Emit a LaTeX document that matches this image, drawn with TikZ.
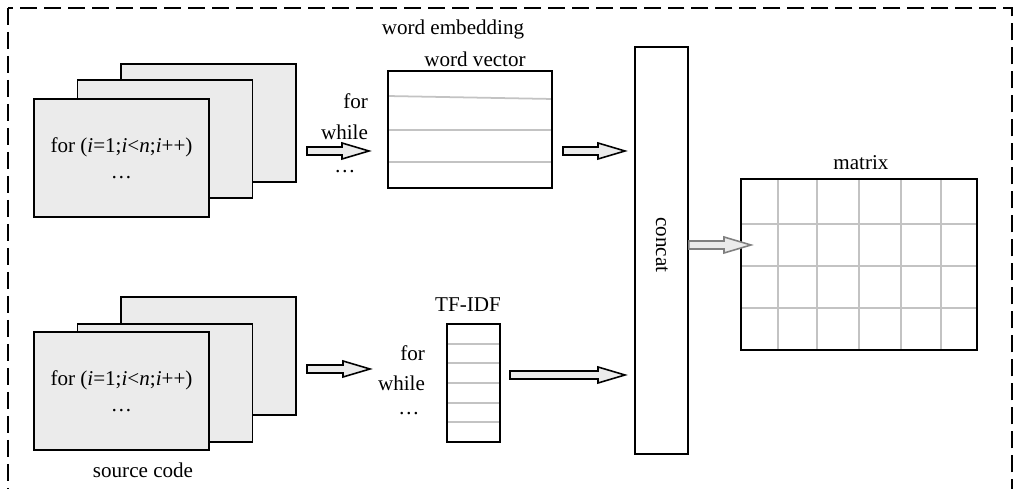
\documentclass[tikz,border=0pt]{standalone}
\usepackage{fontspec}
\setmainfont{Liberation Serif}
\usetikzlibrary{calc,backgrounds}
\definecolor{pagegray}{RGB}{235,235,235}
\definecolor{cellgray}{RGB}{195,195,195}
\definecolor{arrgray}{RGB}{128,128,128}

% fat hollow arrow from #2 to #3
\newcommand{\fatarrow}[3][black]{%
  \draw[fatbody, draw=#1] ($(#2)+(0,-4)$) -- ($(#3)+(-27,-4)$) -- ($(#3)+(-27,-8)$) -- (#3)
    -- ($(#3)+(-27,8)$) -- ($(#3)+(-27,4)$) -- ($(#2)+(0,4)$) -- cycle;}

\begin{document}
\begin{tikzpicture}[x=0.02cm, y=-0.02cm,
  every node/.style={font=\fontsize{12}{11}\selectfont},
  page/.style={draw, line width=1pt, fill=pagegray, minimum width=3.5cm, minimum height=2.36cm, align=center, inner sep=0pt},
  vbox/.style={draw, line width=1pt, inner sep=0pt},
  cell/.style={cellgray, line width=1pt},
  fatbody/.style={fill=pagegray, line width=0.9pt, line join=miter},
  lbl/.style={inner sep=1pt}]
\useasboundingbox (0,0) rectangle (1019,489);
% outer frame
\draw[line width=0.75pt, dash pattern=on 0.34cm off 0.14cm] (8,8) rectangle (1012,530);
% source code pages (top)
\node[page] (tback) at (208.5,123) {};
\node[page] (tmid) at (165,139) {};
\node[page] (tfront) at (121.5,158) {for (\textit{i}=1;\textit{i}<\textit{n};\textit{i}++)\\[4pt] \dots};
% source code pages (bottom)
\node[page] (bback) at (208.5,356) {};
\node[page] (bmid) at (165,383) {};
\node[page] (bfront) at (121.5,391) {for (\textit{i}=1;\textit{i}<\textit{n};\textit{i}++)\\[4pt] \dots};
\node[lbl] (src) at (143,470) {source code};
% word embedding
\node[vbox, minimum width=3.28cm, minimum height=2.34cm] (wv) at (470,129.5) {};
\node[lbl] (emb) at (453,29) {word embedding};
\node[lbl] (wvlbl) at (475,59) {word vector};
\node[lbl, anchor=east] (wfor) at (370,101) {for};
\node[lbl, anchor=east] (wwhile) at (370,132.5) {while};
\node[lbl] (wdots) at (345,172) {\dots};
% TF-IDF
\node[vbox, minimum width=1.06cm, minimum height=2.36cm] (tf) at (473.5,383) {};
\node[lbl] (tflbl) at (468,305) {TF-IDF};
\node[lbl, anchor=east] (tfor) at (427,353) {for};
\node[lbl, anchor=east] (twhile) at (427,383) {while};
\node[lbl] (tdots) at (409,414) {\dots};
% concat
\node[vbox, minimum width=1.06cm, minimum height=8.14cm] (cat) at (661.5,250.5) {};
\node[lbl, rotate=-90] (catlbl) at (662,245) {concat};
% matrix
\node[vbox, minimum width=4.72cm, minimum height=3.42cm] (mat) at (859,264.5) {};
\node[lbl] (matlbl) at (861,163) {matrix};
% grid lines
\begin{scope}[on background layer]
\draw[cell] (wv.west |- 0,96) -- (wv.east |- 0,99);
\foreach \yy in {130,162}
  \draw[cell] (wv.west |- 0,\yy) -- (wv.east |- 0,\yy);
\foreach \k in {1,...,5}
  \draw[cell] (tf.west |- 0,{324+\k*19.67}) -- (tf.east |- 0,{324+\k*19.67});
\foreach \yy in {224,266,308}
  \draw[cell] (mat.west |- 0,\yy) -- (mat.east |- 0,\yy);
\foreach \xx in {778,817,859,901,941}
  \draw[cell] (mat.north -| \xx,0) -- (mat.south -| \xx,0);
\end{scope}
% arrows
\coordinate (a1s) at (307,151);
\coordinate (a1e) at (369,151);
\coordinate (a2s) at (563,151);
\coordinate (a2e) at (625,151);
\coordinate (b1s) at (307,369);
\coordinate (b1e) at (370,369);
\coordinate (b2s) at (510,375);
\coordinate (b2e) at (625,375);
\coordinate (a3s) at (cat.east |- 0,245);
\coordinate (a3e) at (751,245);
\fatarrow{a1s}{a1e}
\fatarrow{a2s}{a2e}
\fatarrow{b1s}{b1e}
\fatarrow{b2s}{b2e}
\fatarrow[arrgray]{a3s}{a3e}
\end{tikzpicture}
\end{document}
